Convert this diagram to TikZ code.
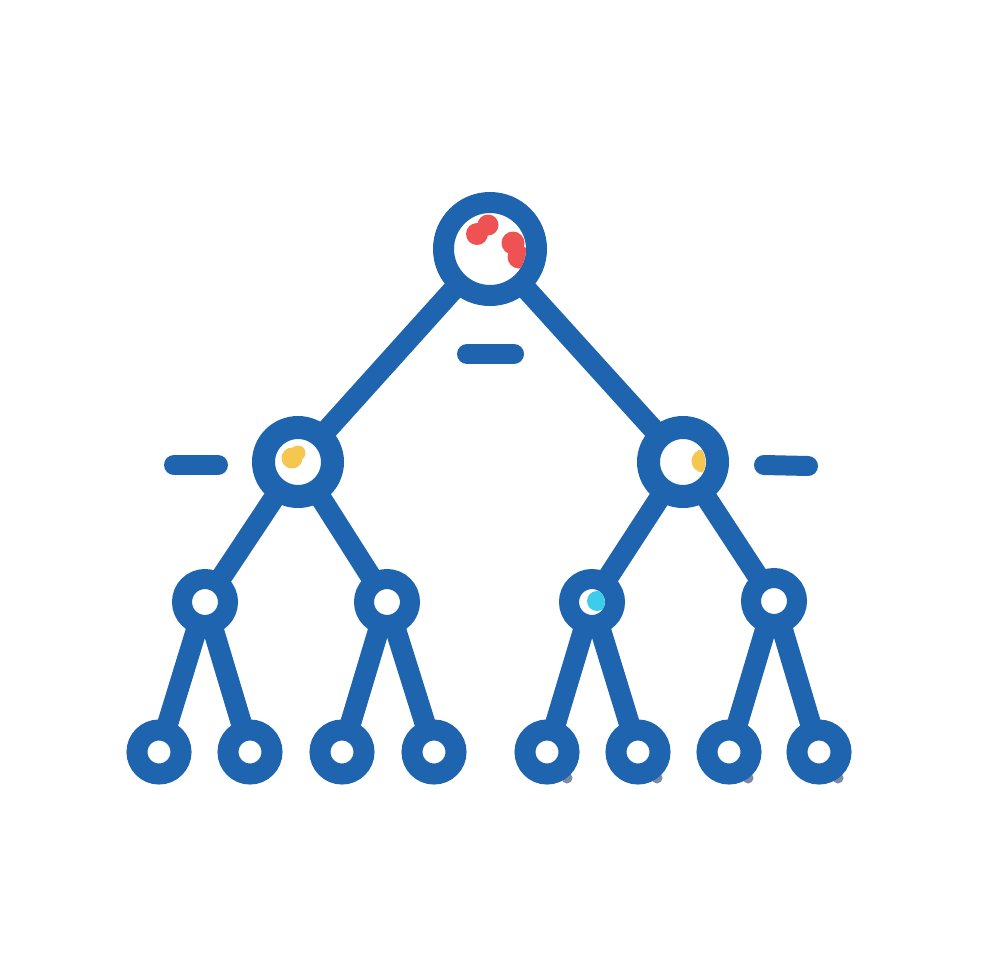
\documentclass[tikz,border=0pt]{standalone}
\usetikzlibrary{backgrounds}
\definecolor{treeblue}{RGB}{30,100,175}
\definecolor{blobred}{RGB}{238,82,82}
\definecolor{blobyellow}{RGB}{245,198,80}
\definecolor{blobcyan}{RGB}{60,205,235}
\definecolor{shadowgray}{RGB}{125,138,165}
\tikzset{
  ring/.style={circle, draw=treeblue, fill=white, inner sep=0pt, outer sep=0pt},
  rootring/.style={ring, line width=21pt, minimum size=93pt},
  midring/.style={ring, line width=23pt, minimum size=69pt},
  subring/.style={ring, line width=20pt, minimum size=46pt},
  leafring/.style={ring, line width=21pt, minimum size=44pt},
  edge/.style={draw=treeblue, line width=21pt},
  dashbar/.style={draw=treeblue, line width=20pt, line cap=round},
}
\begin{document}
\begin{tikzpicture}[x=1pt,y=-1pt]
\useasboundingbox (0,0) rectangle (980,980);
% shadows behind right leaves
\fill[shadowgray] (567,778) circle (5.5);
\fill[shadowgray] (657,778) circle (5.5);
\fill[shadowgray] (748,778) circle (5.5);
\fill[shadowgray] (838,778) circle (5.5);
% nodes
\node[rootring] (r) at (490,249) {};
\node[midring] (l) at (298,462) {};
\node[midring] (rr) at (683,462) {};
\node[subring] (ll) at (205,602) {};
\node[subring] (lr) at (387,602) {};
\node[subring] (rl) at (592,602) {};
\node[subring] (rrr) at (774,601) {};
\node[leafring] (a1) at (159,752) {};
\node[leafring] (a2) at (250,752) {};
\node[leafring] (a3) at (342,752) {};
\node[leafring] (a4) at (434,752) {};
\node[leafring] (a5) at (547,752) {};
\node[leafring] (a6) at (638,752) {};
\node[leafring] (a7) at (729,752) {};
\node[leafring] (a8) at (819,752) {};
% white page and connectors, behind the rings
\begin{pgfonlayer}{background}
\fill[white] (0,0) rectangle (980,980);
\draw[edge] (r.center) -- (l.center);
\draw[edge] (r.center) -- (rr.center);
\draw[edge] (l.center) -- (ll.center);
\draw[edge] (l.center) -- (lr.center);
\draw[edge] (rr.center) -- (rl.center);
\draw[edge] (rr.center) -- (rrr.center);
\draw[edge] (ll.center) -- (a1.center);
\draw[edge] (ll.center) -- (a2.center);
\draw[edge] (lr.center) -- (a3.center);
\draw[edge] (lr.center) -- (a4.center);
\draw[edge] (rl.center) -- (a5.center);
\draw[edge] (rl.center) -- (a6.center);
\draw[edge] (rrr.center) -- (a7.center);
\draw[edge] (rrr.center) -- (a8.center);
\end{pgfonlayer}
% coloured spots, clipped to the inner white discs
\begin{scope}
\clip (r.center) circle (36);
\fill[blobred] (477,234) circle (11);
\fill[blobred] (488,225) circle (10.5);
\fill[blobred] (513,243) circle (11.5);
\fill[blobred] (519,257) circle (11.5);
\end{scope}
\begin{scope}
\clip (l.center) circle (22.5);
\fill[blobyellow] (292,458) circle (10.5);
\fill[blobyellow] (298,453) circle (7.5);
\end{scope}
\begin{scope}
\clip (rr.center) circle (22.5);
\fill[blobyellow] (703,461) circle (11.5);
\end{scope}
\begin{scope}
\clip (rl.center) circle (13);
\fill[blobcyan] (597,601) circle (10);
\end{scope}
% dashes
\draw[dashbar] (467,354) -- (514,354);
\draw[dashbar] (174,465) -- (218,465);
\draw[dashbar] (764,465) -- (808,466);
\end{tikzpicture}
\end{document}
